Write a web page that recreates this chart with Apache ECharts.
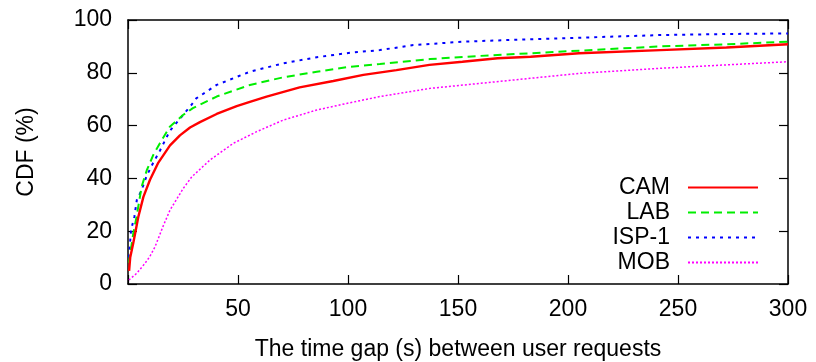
<!DOCTYPE html>
<html>
<head>
<meta charset="utf-8">
<script src="https://cdn.jsdelivr.net/npm/echarts@6/dist/echarts.min.js"></script>
<style>
  html, body { margin: 0; padding: 0; background: #fff; }
  #chart { width: 816px; height: 362px; }
</style>
</head>
<body>
<div id="chart"></div>
<script>
// x ticks / y ticks
const xTicks = [0, 50, 100, 150, 200, 250, 300];
const yTicks = [0, 20, 40, 60, 80, 100];

// CAM
const camX = [0.5, 1, 2.4, 4.7, 7, 10, 13.8, 19.1, 23.6, 28.2, 32.7, 40.3, 49.4, 55.4, 63, 78, 93.3, 107, 122, 137, 152, 168, 183, 205, 242, 272, 300];
const camY = [5, 10, 15.5, 25.5, 33, 39.5, 46, 52.5, 56.3, 59.3, 61.3, 64.4, 67.4, 69, 71, 74.5, 76.9, 79.2, 81, 83, 84.2, 85.5, 86.1, 87.4, 88.6, 89.6, 90.8];

// LAB
const labX = [0.4, 2.4, 3.9, 6.2, 8.5, 11.5, 14.5, 19, 25, 29.5, 40.3, 55.4, 70.6, 85.8, 101, 114.5, 137.3, 160, 182.7, 205.5, 242, 272, 300];
const labY = [8, 19.2, 25.5, 36.9, 43, 48.9, 53.3, 59.6, 64, 66.6, 71, 75.4, 78.3, 80.4, 82.3, 83.3, 85.2, 86.4, 87.4, 88.4, 90, 90.8, 91.8];

// ISP-1
const ispX = [0.4, 1.4, 2.9, 4, 6.2, 8.5, 11.5, 14.5, 19, 25, 28.8, 31, 40.3, 47.8, 55.4, 70.6, 85.8, 101, 114.5, 129.7, 152.4, 182.7, 205.5, 242, 272, 300];
const ispY = [10, 20.5, 25.5, 31.8, 35.6, 41, 46, 50.5, 58, 64, 67.8, 70.3, 75.4, 77.9, 80.4, 83.6, 85.9, 87.6, 88.6, 90.5, 91.8, 92.7, 93.3, 94.3, 94.7, 94.9];

// MOB
const mobX = [0.4, 3.9, 7.7, 10, 12.3, 16, 19.1, 25.1, 29, 37.3, 47.9, 58.5, 70.6, 85.8, 99.4, 114.5, 137.3, 160, 182.7, 205.5, 242, 272, 300];
const mobY = [1.5, 4, 7.8, 10.5, 14.1, 22, 28, 36.2, 40.6, 47, 53.3, 57.7, 62.1, 65.9, 68.4, 71, 74.1, 76, 77.9, 79.8, 81.7, 83, 84.2];

const FONT = '"Liberation Sans", Arial, Helvetica, sans-serif';
const FS = 23;

const pairs = (xs, ys) => xs.map((x, i) => [x, ys[i]]);

function lineSeries(name, xs, ys, color, width, dash) {
  return {
    name: name,
    type: 'line',
    data: pairs(xs, ys),
    showSymbol: false,
    symbol: 'none',
    animation: false,
    lineStyle: { color: color, width: width, type: dash },
    itemStyle: { color: color },
  };
}

const chart = echarts.init(document.getElementById('chart'));

const axisLine = { show: true, onZero: false, lineStyle: { color: '#000', width: 1.5 } };
const tick = { show: true, inside: true, length: 9, lineStyle: { color: '#000', width: 1.2 } };

chart.setOption({
  backgroundColor: '#fff',
  animation: false,
  textStyle: { fontFamily: FONT },
  grid: { left: 128, right: 28, top: 20, bottom: 78, containLabel: false, outerBoundsMode: 'none' },
  legend: {
    orient: 'vertical',
    right: 52,
    top: 170,
    align: 'right',
    itemWidth: 70,
    itemHeight: 14,
    itemGap: 0,
    itemStyle: { opacity: 0 },
    textStyle: { fontSize: FS, color: '#000', fontFamily: FONT, lineHeight: 25, padding: [0, 13, 0, 0] },
    data: ['CAM', 'LAB', 'ISP-1', 'MOB'],
  },
  xAxis: [
    {
      type: 'value',
      min: xTicks[0],
      max: xTicks[xTicks.length - 1],
      interval: 50,
      name: 'The time gap (s) between user requests',
      nameLocation: 'middle',
      nameGap: 54,
      nameTextStyle: { fontSize: FS, color: '#000', fontFamily: FONT },
      axisLine: axisLine,
      axisTick: tick,
      splitLine: { show: false },
      axisLabel: {
        fontSize: FS, color: '#000', fontFamily: FONT, margin: 14,
        formatter: v => (v === 0 ? '' : String(v)),
      },
    },
    {
      type: 'value',
      position: 'top',
      min: xTicks[0],
      max: xTicks[xTicks.length - 1],
      interval: 50,
      axisLine: axisLine,
      axisTick: tick,
      axisLabel: { show: false },
      splitLine: { show: false },
    },
  ],
  yAxis: [
    {
      type: 'value',
      min: yTicks[0],
      max: yTicks[yTicks.length - 1],
      interval: 20,
      name: 'CDF (%)',
      nameLocation: 'middle',
      nameGap: 90,
      nameTextStyle: { fontSize: FS, color: '#000', fontFamily: FONT },
      axisLine: axisLine,
      axisTick: tick,
      splitLine: { show: false },
      axisLabel: { fontSize: FS, color: '#000', fontFamily: FONT, margin: 16 },
    },
    {
      type: 'value',
      position: 'right',
      min: yTicks[0],
      max: yTicks[yTicks.length - 1],
      interval: 20,
      axisLine: axisLine,
      axisTick: tick,
      axisLabel: { show: false },
      splitLine: { show: false },
    },
  ],
  series: [
    lineSeries('MOB', mobX, mobY, '#ff00ff', 1.5, [2, 2]),
    lineSeries('ISP-1', ispX, ispY, '#0000ff', 2, [3, 5]),
    lineSeries('LAB', labX, labY, '#00ee00', 2, [8, 5]),
    lineSeries('CAM', camX, camY, '#ff0000', 2.4, 'solid'),
  ],
});
</script>
</body>
</html>
